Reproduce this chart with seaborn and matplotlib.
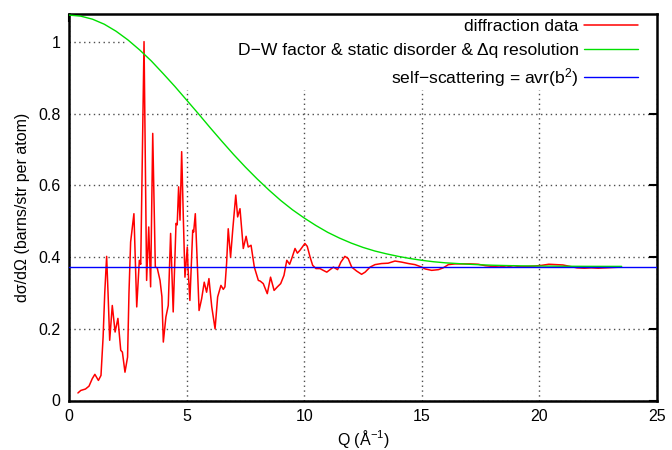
import matplotlib
matplotlib.use("Agg")
import matplotlib.pyplot as plt
import seaborn as sns
import pandas as pd
from matplotlib.patches import Rectangle

# ---- data ----
q_data = [0.38, 0.50, 0.70, 0.85, 0.99, 1.10, 1.25, 1.36, 1.45, 1.52, 1.60, 1.66, 1.73,
          1.84, 1.96, 2.08, 2.20, 2.27, 2.38, 2.49, 2.55, 2.62, 2.76, 2.88, 2.99, 3.05,
          3.19, 3.30, 3.39, 3.47, 3.56, 3.67, 3.75, 3.87, 3.95, 4.01, 4.12, 4.22, 4.32,
          4.43, 4.55, 4.60, 4.66, 4.72, 4.79, 4.86, 4.93, 5.03, 5.06, 5.14, 5.26, 5.30,
          5.37, 5.45, 5.53, 5.64, 5.75, 5.85, 5.95, 6.07, 6.21, 6.32, 6.46, 6.56, 6.63,
          6.70, 6.77, 6.87, 6.96, 7.09, 7.17, 7.27, 7.41, 7.53, 7.62, 7.74, 7.88, 8.05,
          8.13, 8.26, 8.43, 8.57, 8.72, 8.86, 9.00, 9.14, 9.26, 9.38, 9.47, 9.61, 9.71,
          9.82, 9.94, 10.03, 10.13, 10.25, 10.36, 10.50, 10.67, 10.81, 10.96, 11.10,
          11.24, 11.42, 11.56, 11.73, 11.87, 12.02, 12.23, 12.44, 12.59, 12.80, 13.01,
          13.29, 13.57, 13.86, 14.14, 14.43, 14.71, 15.00, 15.14, 15.42, 15.71, 15.91,
          16.13, 16.41, 16.70, 17.05, 17.4, 17.7, 18.0, 18.3, 18.6, 18.9, 19.2, 19.5,
          19.8, 20.1, 20.4, 20.7, 21.0, 21.3, 21.6, 21.9, 22.2, 22.5, 22.8, 23.1, 23.45]
s_data = [0.021, 0.028, 0.032, 0.040, 0.061, 0.073, 0.056, 0.070, 0.177, 0.300, 0.402,
          0.300, 0.168, 0.265, 0.191, 0.229, 0.140, 0.135, 0.079, 0.121, 0.300, 0.442,
          0.521, 0.261, 0.391, 0.380, 1.001, 0.335, 0.484, 0.317, 0.745, 0.372, 0.370,
          0.335, 0.290, 0.163, 0.233, 0.265, 0.466, 0.247, 0.494, 0.490, 0.596, 0.503,
          0.694, 0.512, 0.344, 0.428, 0.370, 0.279, 0.475, 0.470, 0.521, 0.390, 0.251,
          0.284, 0.330, 0.302, 0.340, 0.261, 0.200, 0.289, 0.321, 0.310, 0.317, 0.382,
          0.479, 0.400, 0.475, 0.573, 0.512, 0.535, 0.424, 0.458, 0.428, 0.433, 0.372,
          0.335, 0.333, 0.326, 0.298, 0.344, 0.307, 0.317, 0.326, 0.349, 0.391, 0.380,
          0.396, 0.424, 0.411, 0.419, 0.430, 0.438, 0.430, 0.400, 0.377, 0.368, 0.368,
          0.363, 0.358, 0.365, 0.372, 0.365, 0.386, 0.402, 0.396, 0.372, 0.361, 0.352,
          0.358, 0.372, 0.379, 0.382, 0.383, 0.389, 0.386, 0.382, 0.379, 0.372, 0.367,
          0.363, 0.365, 0.370, 0.379, 0.381, 0.381, 0.381, 0.380, 0.376, 0.374, 0.375,
          0.372, 0.376, 0.373, 0.374, 0.375, 0.377, 0.380, 0.379, 0.378, 0.374, 0.370,
          0.369, 0.370, 0.369, 0.370, 0.371, 0.372]

q_dw = [0.0, 0.5, 1.0, 1.5, 2.0, 2.5, 3.0, 3.5, 4.0, 4.5, 5.0, 5.5, 6.0, 6.5, 7.0, 7.5,
        8.0, 8.5, 9.0, 9.5, 10.0, 10.5, 11.0, 11.5, 12.0, 12.5, 13.0, 13.5, 14.0, 14.5,
        15.0, 15.5, 16.0, 16.5, 17.0, 17.5, 18.0, 18.5, 19.0, 19.5, 20.0, 21.0, 22.0,
        23.0, 23.5]
s_dw = [1.075, 1.072, 1.0635, 1.0495, 1.030, 1.006, 0.978, 0.947, 0.912, 0.876, 0.838,
        0.800, 0.761, 0.723, 0.686, 0.651, 0.618, 0.587, 0.558, 0.532, 0.509, 0.488,
        0.469, 0.453, 0.439, 0.427, 0.417, 0.409, 0.402, 0.396, 0.391, 0.387, 0.384,
        0.382, 0.380, 0.3785, 0.3773, 0.3765, 0.3758, 0.3753, 0.3750, 0.3745, 0.3742,
        0.3741, 0.3741]

q_self = [0.0, 25.0]
s_self = [0.373, 0.373]

labels = ["diffraction data",
          "D\u2212W factor & static disorder & \u0394q resolution",
          "self\u2212scattering = avr(b$^2$)"]
x_ticks = [0, 5, 10, 15, 20, 25]
y_ticks = [0, 0.2, 0.4, 0.6, 0.8, 1.0]
y_ticklabels = ["0", "0.2", "0.4", "0.6", "0.8", "1"]

# ---- plotting ----
sns.set_theme(style="white")
plt.rcParams["font.family"] = ["Liberation Sans", "DejaVu Sans"]
plt.rcParams["mathtext.fontset"] = "custom"
plt.rcParams["mathtext.rm"] = "Liberation Sans"
plt.rcParams["mathtext.it"] = "Liberation Sans"
plt.rcParams["text.color"] = "black"
plt.rcParams["axes.labelcolor"] = "black"
plt.rcParams["xtick.color"] = "black"
plt.rcParams["ytick.color"] = "black"

fig = plt.figure(figsize=(6.72, 4.5), dpi=100)
ax = fig.add_axes([69 / 672, 1 - 400.5 / 450, 588 / 672, 386.5 / 450])

df_data = pd.DataFrame({"Q": q_data, "S": s_data})
df_dw = pd.DataFrame({"Q": q_dw, "S": s_dw})
df_self = pd.DataFrame({"Q": q_self, "S": s_self})

sns.lineplot(data=df_data, x="Q", y="S", ax=ax, color="#ff0000", lw=1.1,
             estimator=None, sort=False, label=labels[0], zorder=3)
sns.lineplot(data=df_dw, x="Q", y="S", ax=ax, color="#00e000", lw=1.0,
             estimator=None, sort=False, label=labels[1], zorder=3)
sns.lineplot(data=df_self, x="Q", y="S", ax=ax, color="#0000ff", lw=1.0,
             estimator=None, sort=False, label=labels[2], zorder=3)

ax.set_xlim(0, 25)
ax.set_ylim(0, 1.078)
ax.set_xticks(x_ticks)
ax.set_xticklabels([str(t) for t in x_ticks])
ax.set_yticks(y_ticks)
ax.set_yticklabels(y_ticklabels)

ax.set_axisbelow(True)
ax.grid(True, linestyle=(0, (1, 2.5)), color="0.3", lw=1.0)
for gl in ax.get_xgridlines() + ax.get_ygridlines():
    gl.set_zorder(0.5)
# opaque key area (hides grid behind the key, like gnuplot)
ax.add_patch(Rectangle((0.095, 0.803), 0.905, 0.197, transform=ax.transAxes,
                       facecolor="white", edgecolor="none", zorder=1))

for sp in ax.spines.values():
    sp.set_linewidth(1.8)
    sp.set_color("black")
ax.tick_params(direction="in", top=True, right=True, length=6, width=1.5,
               labelsize=11.5, colors="black", labelcolor="black", pad=6)

ax.set_xlabel("Q (\u00c5$^{\u22121}$)", fontsize=11.5, labelpad=3, color="black")
ax.set_ylabel("d\u03c3/d\u03a9 (barns/str per atom)", fontsize=11.5, labelpad=6,
              color="black")

leg = ax.legend(loc="upper right", bbox_to_anchor=(0.9677, 0.987), frameon=False,
                markerfirst=False, fontsize=12.6, handlelength=3.1,
                handletextpad=0.3, labelspacing=0.48, borderpad=0,
                borderaxespad=0)
for t in leg.get_texts():
    t.set_color("black")
leg.set_zorder(5)

fig.savefig("out.png", dpi=100)
